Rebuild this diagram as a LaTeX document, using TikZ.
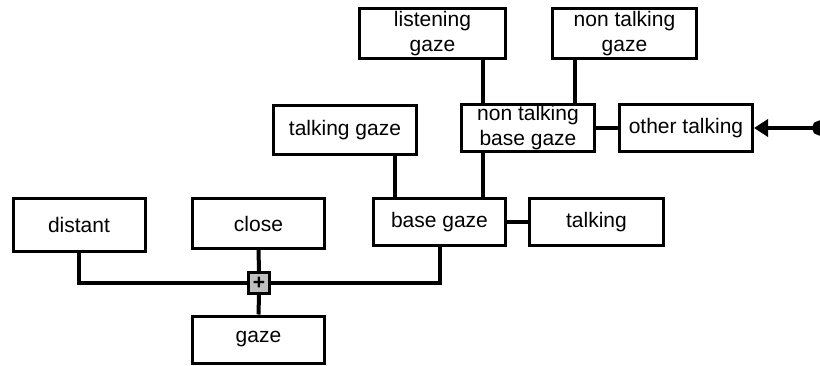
\documentclass[tikz,border=0pt]{standalone}
\usepackage{fontspec}
\setmainfont{Liberation Sans}
\usetikzlibrary{arrows.meta}
\begin{document}
\begin{tikzpicture}[x=1pt, y=-1pt,
    box/.style={draw, line width=3pt, fill=white, inner sep=0pt, align=center,
      minimum width=132pt, minimum height=47pt, font=\fontsize{21}{25}\selectfont},
    link/.style={line width=4pt}]
      \useasboundingbox (0,0) rectangle (820,365);

      \node[box, minimum height=53pt] (distant) at (79,225) {distant};
      \node[box, minimum height=50pt] (close) at (258.5,223.5) {close};
      \node[box] (gaze) at (258.5,339.5) {gaze};
      \node[box] (bgaze) at (439.5,222) {base gaze};
      \node[box, minimum width=134pt] (talking) at (596.5,222) {talking};
      \node[box, minimum width=143pt, minimum height=49pt] (tgaze) at (345,130) {talking gaze};
      \node[box, minimum width=133pt] (ntbase) at (528,128) {non talking\\base gaze};
      \node[box, minimum width=133pt] (otalk) at (686,128) {other talking};
      \node[box, minimum width=146pt, minimum height=50pt] (lgaze) at (432.5,33.5) {listening\\gaze};
      \node[box, minimum width=144pt, minimum height=50pt] (ntgaze) at (624.5,33.5) {non talking\\gaze};

      \node[draw, line width=3pt, fill=gray!50, minimum size=21pt, inner sep=0pt,
        font=\bfseries\fontsize{21}{21}\selectfont] (plus) at (259,283) {+};

      \draw[link] (distant.south) |- (plus.west);
      \draw[link] (bgaze.south) |- (plus.east);
      \draw[link] (close.south) -- (plus.north);
      \draw[link] (plus.south) -- (gaze.north);

      \draw[link] ([xshift=50pt]tgaze.south) coordinate (tg) -- (tg |- bgaze.north);
      \draw[link] ([xshift=-45pt]ntbase.south) coordinate (nb) -- (nb |- bgaze.north);
      \draw[link] ([xshift=-45pt]ntbase.north) coordinate (nl) -- (nl |- lgaze.south);
      \draw[link] ([xshift=47pt]ntbase.north) coordinate (nn) -- (nn |- ntgaze.south);
      \draw[link] (ntbase.east) -- (otalk.west);
      \draw[link] (bgaze.east) -- (talking.west);

      \coordinate (src) at (827,128);
      \draw[link, {Circle[length=15pt]}-{Triangle[length=14pt, width=17pt]}] (src) -- (otalk.east);
    \end{tikzpicture}
\end{document}
